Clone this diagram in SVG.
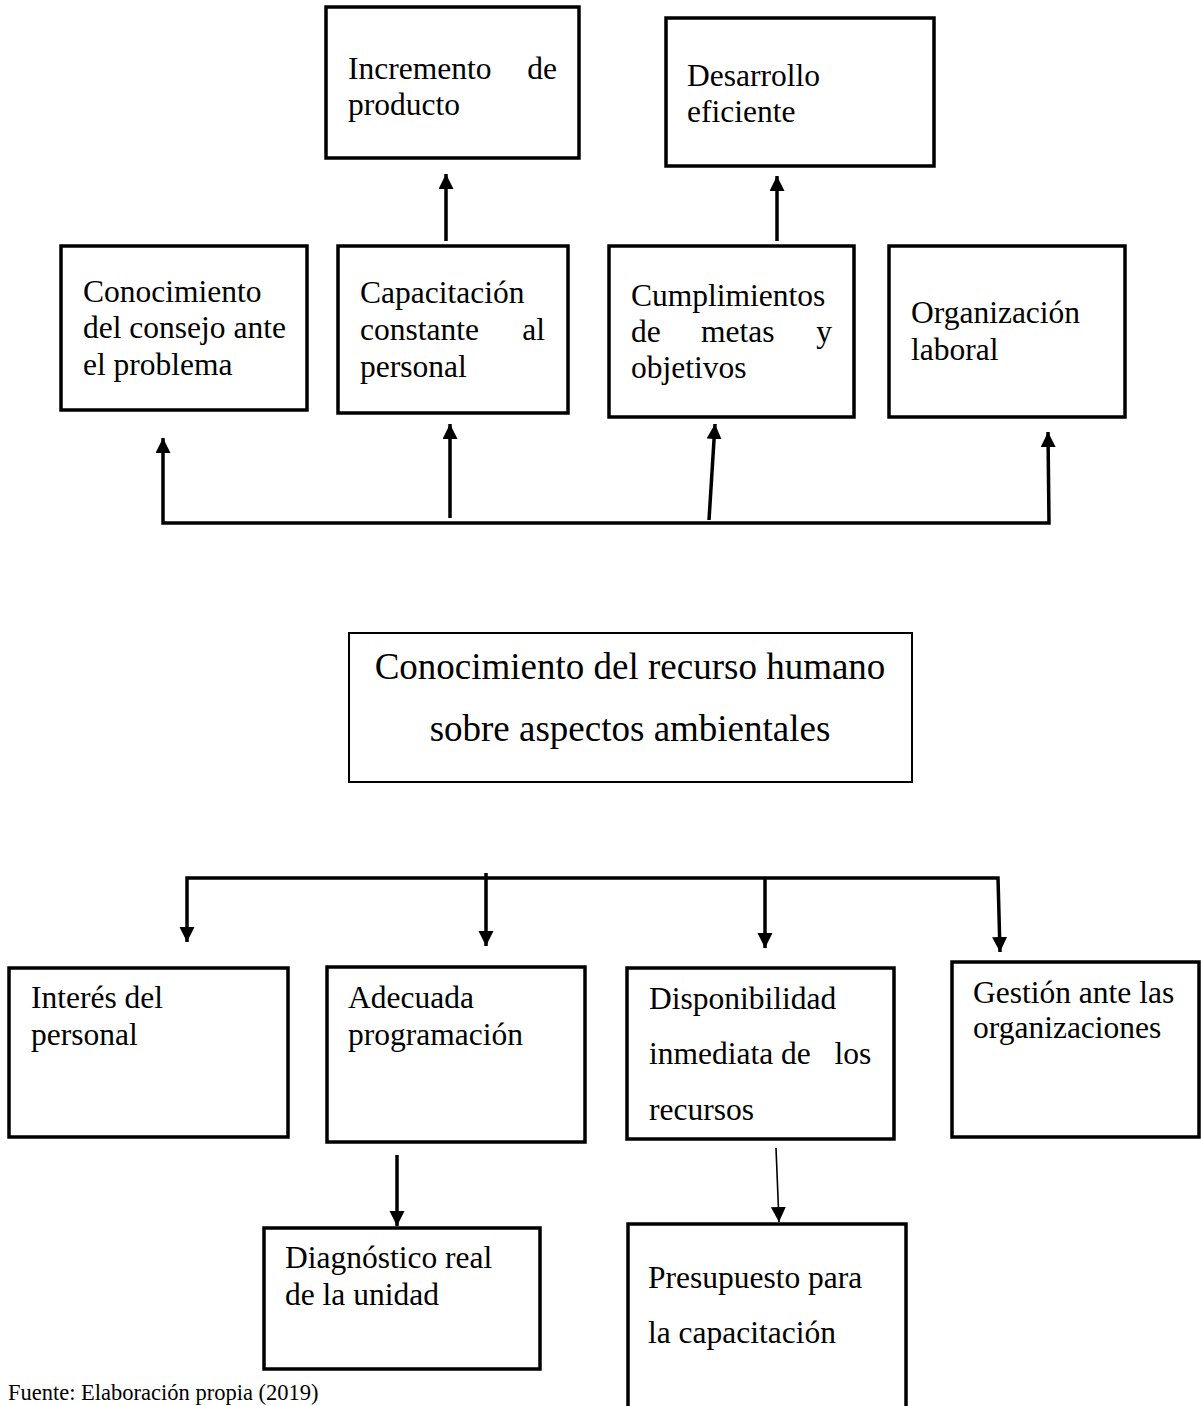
<svg xmlns="http://www.w3.org/2000/svg" width="1201" height="1406" viewBox="0 0 1201 1406">
<style>
.box{fill:#fff;stroke:#000;stroke-width:3.5}
.thin{fill:#fff;stroke:#000;stroke-width:2}
.t{font-family:"Liberation Serif","Times New Roman",serif;font-size:31.5px;fill:#000}
.tc{font-family:"Liberation Serif","Times New Roman",serif;font-size:37px;fill:#000;text-anchor:middle}
.foot{font-family:"Liberation Serif","Times New Roman",serif;font-size:22.5px;fill:#000}
.c{fill:none;stroke:#000;stroke-width:3.5}
.c2{fill:none;stroke:#000;stroke-width:1.6}
</style>
<defs>
<marker id="ah" markerUnits="userSpaceOnUse" markerWidth="16" markerHeight="16" refX="15" refY="7.5" orient="auto-start-reverse" viewBox="0 0 16 16">
<path d="M0,0 L15,7.5 L0,15 z" fill="#000"/>
</marker>
</defs>
<rect width="1201" height="1406" fill="#fff"/>

<g id="connectors">
<line class="c" x1="446" y1="241" x2="446" y2="174" marker-end="url(#ah)"/>
<line class="c" x1="777" y1="241" x2="777" y2="176" marker-end="url(#ah)"/>
<polyline class="c" points="163,438 163,523 1049,523 1048,432" marker-start="url(#ah)" marker-end="url(#ah)"/>
<line class="c" x1="450" y1="518" x2="450" y2="424" marker-end="url(#ah)"/>
<line class="c" x1="709" y1="520" x2="715" y2="424" marker-end="url(#ah)"/>
<polyline class="c" points="187,942 187,878 998,878 1000,952" marker-start="url(#ah)" marker-end="url(#ah)"/>
<line class="c" x1="486" y1="873" x2="486" y2="946" marker-end="url(#ah)"/>
<line class="c" x1="765" y1="878" x2="765" y2="948" marker-end="url(#ah)"/>
<line class="c" x1="397" y1="1155" x2="397" y2="1226" marker-end="url(#ah)"/>
<line class="c2" x1="776" y1="1148" x2="779" y2="1222" marker-end="url(#ah)"/>
</g>

<g id="incremento">
<rect class="box" x="326" y="7" width="253" height="151"/>
<text class="t" y="79"><tspan x="348">Incremento</tspan><tspan x="557" text-anchor="end">de</tspan></text>
<text class="t" x="348" y="115">producto</text>
</g>

<g id="desarrollo">
<rect class="box" x="666" y="18" width="268" height="148"/>
<text class="t" x="687" y="86">Desarrollo</text>
<text class="t" x="687" y="122">eficiente</text>
</g>

<g id="conocimiento-consejo">
<rect class="box" x="61" y="246" width="246" height="164"/>
<text class="t" x="83" y="302">Conocimiento</text>
<text class="t" x="83" y="338">del consejo ante</text>
<text class="t" x="83" y="375">el problema</text>
</g>

<g id="capacitacion">
<rect class="box" x="338" y="246" width="230" height="167"/>
<text class="t" x="360" y="303">Capacitación</text>
<text class="t" y="340"><tspan x="360">constante</tspan><tspan x="545" text-anchor="end">al</tspan></text>
<text class="t" x="360" y="377">personal</text>
</g>

<g id="cumplimientos">
<rect class="box" x="609" y="246" width="245" height="171"/>
<text class="t" x="631" y="306">Cumplimientos</text>
<text class="t" y="342"><tspan x="631">de</tspan><tspan x="701">metas</tspan><tspan x="832" text-anchor="end">y</tspan></text>
<text class="t" x="631" y="378">objetivos</text>
</g>

<g id="organizacion">
<rect class="box" x="889" y="246" width="236" height="171"/>
<text class="t" x="911" y="323">Organización</text>
<text class="t" x="911" y="360">laboral</text>
</g>

<g id="central">
<rect class="thin" x="349" y="633" width="563" height="149"/>
<text class="tc" x="630" y="679">Conocimiento del recurso humano</text>
<text class="tc" x="630" y="741">sobre aspectos ambientales</text>
</g>

<g id="interes">
<rect class="box" x="9" y="968" width="279" height="169"/>
<text class="t" x="31" y="1008">Interés del</text>
<text class="t" x="31" y="1045">personal</text>
</g>

<g id="adecuada">
<rect class="box" x="327" y="967" width="258" height="175"/>
<text class="t" x="348" y="1008">Adecuada</text>
<text class="t" x="348" y="1045">programación</text>
</g>

<g id="disponibilidad">
<rect class="box" x="627" y="968" width="267" height="171"/>
<text class="t" x="649" y="1009">Disponibilidad</text>
<text class="t" xml:space="preserve" x="649" y="1064">inmediata de   los</text>
<text class="t" x="649" y="1120">recursos</text>
</g>

<g id="gestion">
<rect class="box" x="952" y="962" width="247" height="175"/>
<text class="t" x="973" y="1003">Gestión ante las</text>
<text class="t" x="973" y="1038">organizaciones</text>
</g>

<g id="diagnostico">
<rect class="box" x="264" y="1228" width="276" height="141"/>
<text class="t" x="285" y="1268">Diagnóstico real</text>
<text class="t" x="285" y="1305">de la unidad</text>
</g>

<g id="presupuesto">
<rect class="box" x="628" y="1224" width="278" height="200"/>
<text class="t" x="648" y="1288">Presupuesto para</text>
<text class="t" x="648" y="1343">la capacitación</text>
</g>

<text class="foot" x="8" y="1400">Fuente: Elaboración propia (2019)</text>
</svg>
